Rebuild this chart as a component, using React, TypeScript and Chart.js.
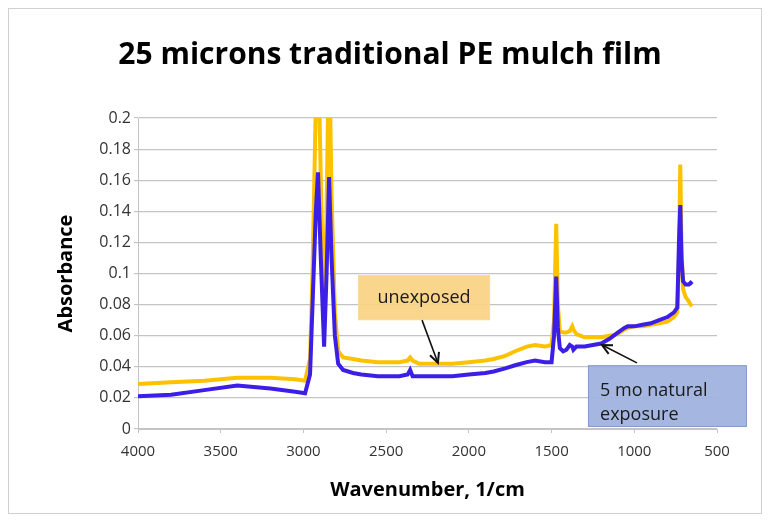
import React, { useEffect, useRef } from "react";
import { Chart, registerables } from "chart.js";

Chart.register(...registerables);

// Wavenumber (1/cm), descending
const wavenumbers = [
  4000, 3800, 3600, 3400, 3200, 3050, 2990, 2960, 2945, 2925, 2912, 2895, 2875,
  2860, 2845, 2830, 2810, 2790, 2760, 2700, 2650, 2550, 2420, 2370, 2355, 2340,
  2300, 2200, 2100, 2000, 1900, 1850, 1780, 1720, 1650, 1600, 1540, 1500, 1485, 1472,
  1462, 1450, 1430, 1410, 1390, 1375, 1368, 1350, 1300, 1250, 1200, 1150, 1100,
  1060, 1040, 1000, 950, 900, 850, 800, 760, 740, 730, 722, 715, 705, 690, 670,
  660, 650,
];

// Absorbance, unexposed film (yellow)
const unexposed = [
  0.029, 0.030, 0.031, 0.033, 0.033, 0.032, 0.031, 0.045, 0.10, 0.21, 0.25, 0.16, 0.065,
  0.14, 0.25, 0.15, 0.075, 0.05, 0.046, 0.045, 0.044, 0.043, 0.043, 0.044, 0.046, 0.044,
  0.042, 0.042, 0.042, 0.043, 0.044, 0.045, 0.047, 0.050, 0.053, 0.054, 0.053, 0.054, 0.07, 0.132,
  0.08, 0.063, 0.062, 0.062, 0.063, 0.066, 0.064, 0.061, 0.059, 0.059, 0.059, 0.060, 0.061,
  0.064, 0.065, 0.066, 0.066, 0.067, 0.068, 0.069, 0.072, 0.075, 0.11, 0.170, 0.12, 0.09, 0.085, 0.082,
  0.080, 0.079,
];

// Absorbance, after 5 months natural exposure (blue)
const exposed5mo = [
  0.021, 0.022, 0.025, 0.028, 0.026, 0.024, 0.023, 0.035, 0.08, 0.14, 0.165, 0.11, 0.053,
  0.10, 0.162, 0.11, 0.06, 0.042, 0.038, 0.036, 0.035, 0.034, 0.034, 0.035, 0.038, 0.034,
  0.034, 0.034, 0.034, 0.035, 0.036, 0.037, 0.039, 0.041, 0.043, 0.044, 0.043, 0.043, 0.06, 0.098,
  0.065, 0.052, 0.050, 0.051, 0.054, 0.053, 0.051, 0.053, 0.053, 0.054, 0.055, 0.058, 0.062,
  0.065, 0.066, 0.066, 0.067, 0.068, 0.070, 0.072, 0.075, 0.078, 0.12, 0.144, 0.11, 0.095, 0.093, 0.093,
  0.094, 0.093,
];

const seriesNames = ["5 mo natural exposure", "unexposed"];
const titleText = "25 microns traditional PE mulch film";
const xTitle = "Wavenumber, 1/cm";
const yTitle = "Absorbance";
const xRange = [500, 4000];
const xStep = 500;
const yRange = [0, 0.2];
const yStep = 0.02;

const FONT = "'Open Sans', 'DejaVu Sans', sans-serif";

type Note = {
  lines: string[];
  box: [number, number, number, number]; // x1, y1, x2, y2 in data units
  fill: string;
  stroke: string;
  align: "center" | "left";
  textAt: [number, number];
  lineGap: number;
  arrowFrom: [number, number];
  arrowTo: [number, number];
};

const notes: Note[] = [
  {
    lines: ["unexposed"],
    box: [2670, 0.099, 1872, 0.070],
    fill: "rgba(250, 210, 130, 0.92)",
    stroke: "rgba(250, 218, 160, 0.9)",
    align: "center",
    textAt: [2271, 0.0845],
    lineGap: 0,
    arrowFrom: [2283, 0.070],
    arrowTo: [2187, 0.0425],
  },
  {
    lines: ["5 mo natural", "exposure"],
    box: [1280, 0.041, 319, 0.0013],
    fill: "rgba(160, 179, 222, 0.95)",
    stroke: "rgba(130, 152, 200, 0.9)",
    align: "left",
    textAt: [1207, 0.0245],
    lineGap: 0.0155,
    arrowFrom: [984, 0.0425],
    arrowTo: [1195, 0.054],
  },
];

const titlePlugin = {
  id: "mainTitle",
  afterDraw(chart: any) {
    const { ctx } = chart;
    ctx.save();
    ctx.fillStyle = "#000";
    ctx.font = `bold 30px ${FONT}`;
    ctx.textAlign = "center";
    ctx.textBaseline = "middle";
    ctx.fillText(titleText, chart.width / 2 + 5, 47);
    ctx.restore();
  },
};

const notesPlugin = {
  id: "notes",
  afterDatasetsDraw(chart: any) {
    const { ctx, scales } = chart;
    const xs = scales.x;
    const ys = scales.y;
    const px = (w: number) => xs.getPixelForValue(w);
    const py = (v: number) => ys.getPixelForValue(v);
    ctx.save();
    for (const n of notes) {
      const x1 = px(n.box[0]);
      const y1 = py(n.box[1]);
      const x2 = px(n.box[2]);
      const y2 = py(n.box[3]);
      ctx.fillStyle = n.fill;
      ctx.fillRect(x1, y1, x2 - x1, y2 - y1);
      ctx.strokeStyle = n.stroke;
      ctx.lineWidth = 1;
      ctx.strokeRect(x1 + 0.5, y1 + 0.5, x2 - x1 - 1, y2 - y1 - 1);
      ctx.fillStyle = "#1a1a1a";
      ctx.font = `18px ${FONT}`;
      ctx.textAlign = n.align;
      ctx.textBaseline = "middle";
      n.lines.forEach((t, i) => {
        ctx.fillText(t, px(n.textAt[0]), py(n.textAt[1] - i * n.lineGap));
      });
      // arrow
      const ax = px(n.arrowFrom[0]);
      const ay = py(n.arrowFrom[1]);
      const bx = px(n.arrowTo[0]);
      const by = py(n.arrowTo[1]);
      ctx.strokeStyle = "#111";
      ctx.lineWidth = 1.6;
      ctx.beginPath();
      ctx.moveTo(ax, ay);
      ctx.lineTo(bx, by);
      ctx.stroke();
      const ang = Math.atan2(by - ay, bx - ax);
      const len = 11;
      const spread = 0.45;
      ctx.lineWidth = 2;
      ctx.beginPath();
      ctx.moveTo(bx - len * Math.cos(ang - spread), by - len * Math.sin(ang - spread));
      ctx.lineTo(bx, by);
      ctx.lineTo(bx - len * Math.cos(ang + spread), by - len * Math.sin(ang + spread));
      ctx.stroke();
    }
    ctx.restore();
  },
};

export default function App() {
  const ref = useRef<HTMLCanvasElement | null>(null);

  useEffect(() => {
    if (!ref.current) return;
    const gridColor = "#c4c4c4";
    const chart = new Chart(ref.current, {
      type: "line",
      data: {
        datasets: [
          {
            label: seriesNames[0],
            data: wavenumbers.map((w, i) => ({ x: w, y: exposed5mo[i] })),
            borderColor: "#3c1fe6",
            borderWidth: 4,
            pointRadius: 0,
            tension: 0,
            fill: false,
          },
          {
            label: seriesNames[1],
            data: wavenumbers.map((w, i) => ({ x: w, y: unexposed[i] })),
            borderColor: "#fcc200",
            borderWidth: 4,
            pointRadius: 0,
            tension: 0,
            fill: false,
          },
        ],
      },
      options: {
        animation: false,
        responsive: false,
        maintainAspectRatio: false,
        layout: { padding: { left: 0, right: 45, top: 110, bottom: 0 } },
        plugins: {
          legend: { display: false },
          tooltip: { enabled: false },
          title: { display: false },
        },
        scales: {
          x: {
            type: "linear",
            reverse: true,
            min: xRange[0],
            max: xRange[1],
            afterFit: (s: any) => {
              s.height = 85;
            },
            ticks: {
              stepSize: xStep,
              color: "#333",
              font: { family: FONT, size: 15 },
              padding: 10,
              maxRotation: 0,
              autoSkip: false,
              callback: (v: any) => String(v),
            },
            grid: {
              drawOnChartArea: false,
              drawTicks: true,
              tickLength: 4,
              color: gridColor,
            },
            border: { color: gridColor, width: 1 },
            title: {
              display: true,
              text: xTitle,
              color: "#000",
              font: { family: FONT, size: 20, weight: "bold" },
              padding: { top: 0, bottom: 12 },
            },
          },
          y: {
            type: "linear",
            min: yRange[0],
            max: yRange[1],
            afterFit: (s: any) => {
              s.width = 130;
            },
            ticks: {
              stepSize: yStep,
              color: "#333",
              font: { family: FONT, size: 16 },
              padding: 3,
              callback: (v: any) => String(Number(Number(v).toFixed(2))),
            },
            grid: {
              color: gridColor,
              tickLength: 4,
              lineWidth: 1.2,
            },
            border: { color: gridColor, width: 1 },
            title: {
              display: true,
              text: yTitle,
              color: "#000",
              font: { family: FONT, size: 20, weight: "bold" },
              padding: { top: 46, bottom: 0 },
            },
          },
        },
      },
      plugins: [notesPlugin, titlePlugin],
    });
    return () => chart.destroy();
  }, []);

  return (
    <div
      style={{
        position: "relative",
        width: 754,
        height: 506,
        outline: "1px solid #d0d0d0",
        outlineOffset: -1,
        background: "#fff",
      }}
    >
      <canvas ref={ref} width={754} height={506} style={{ display: "block" }} />
    </div>
  );
}
